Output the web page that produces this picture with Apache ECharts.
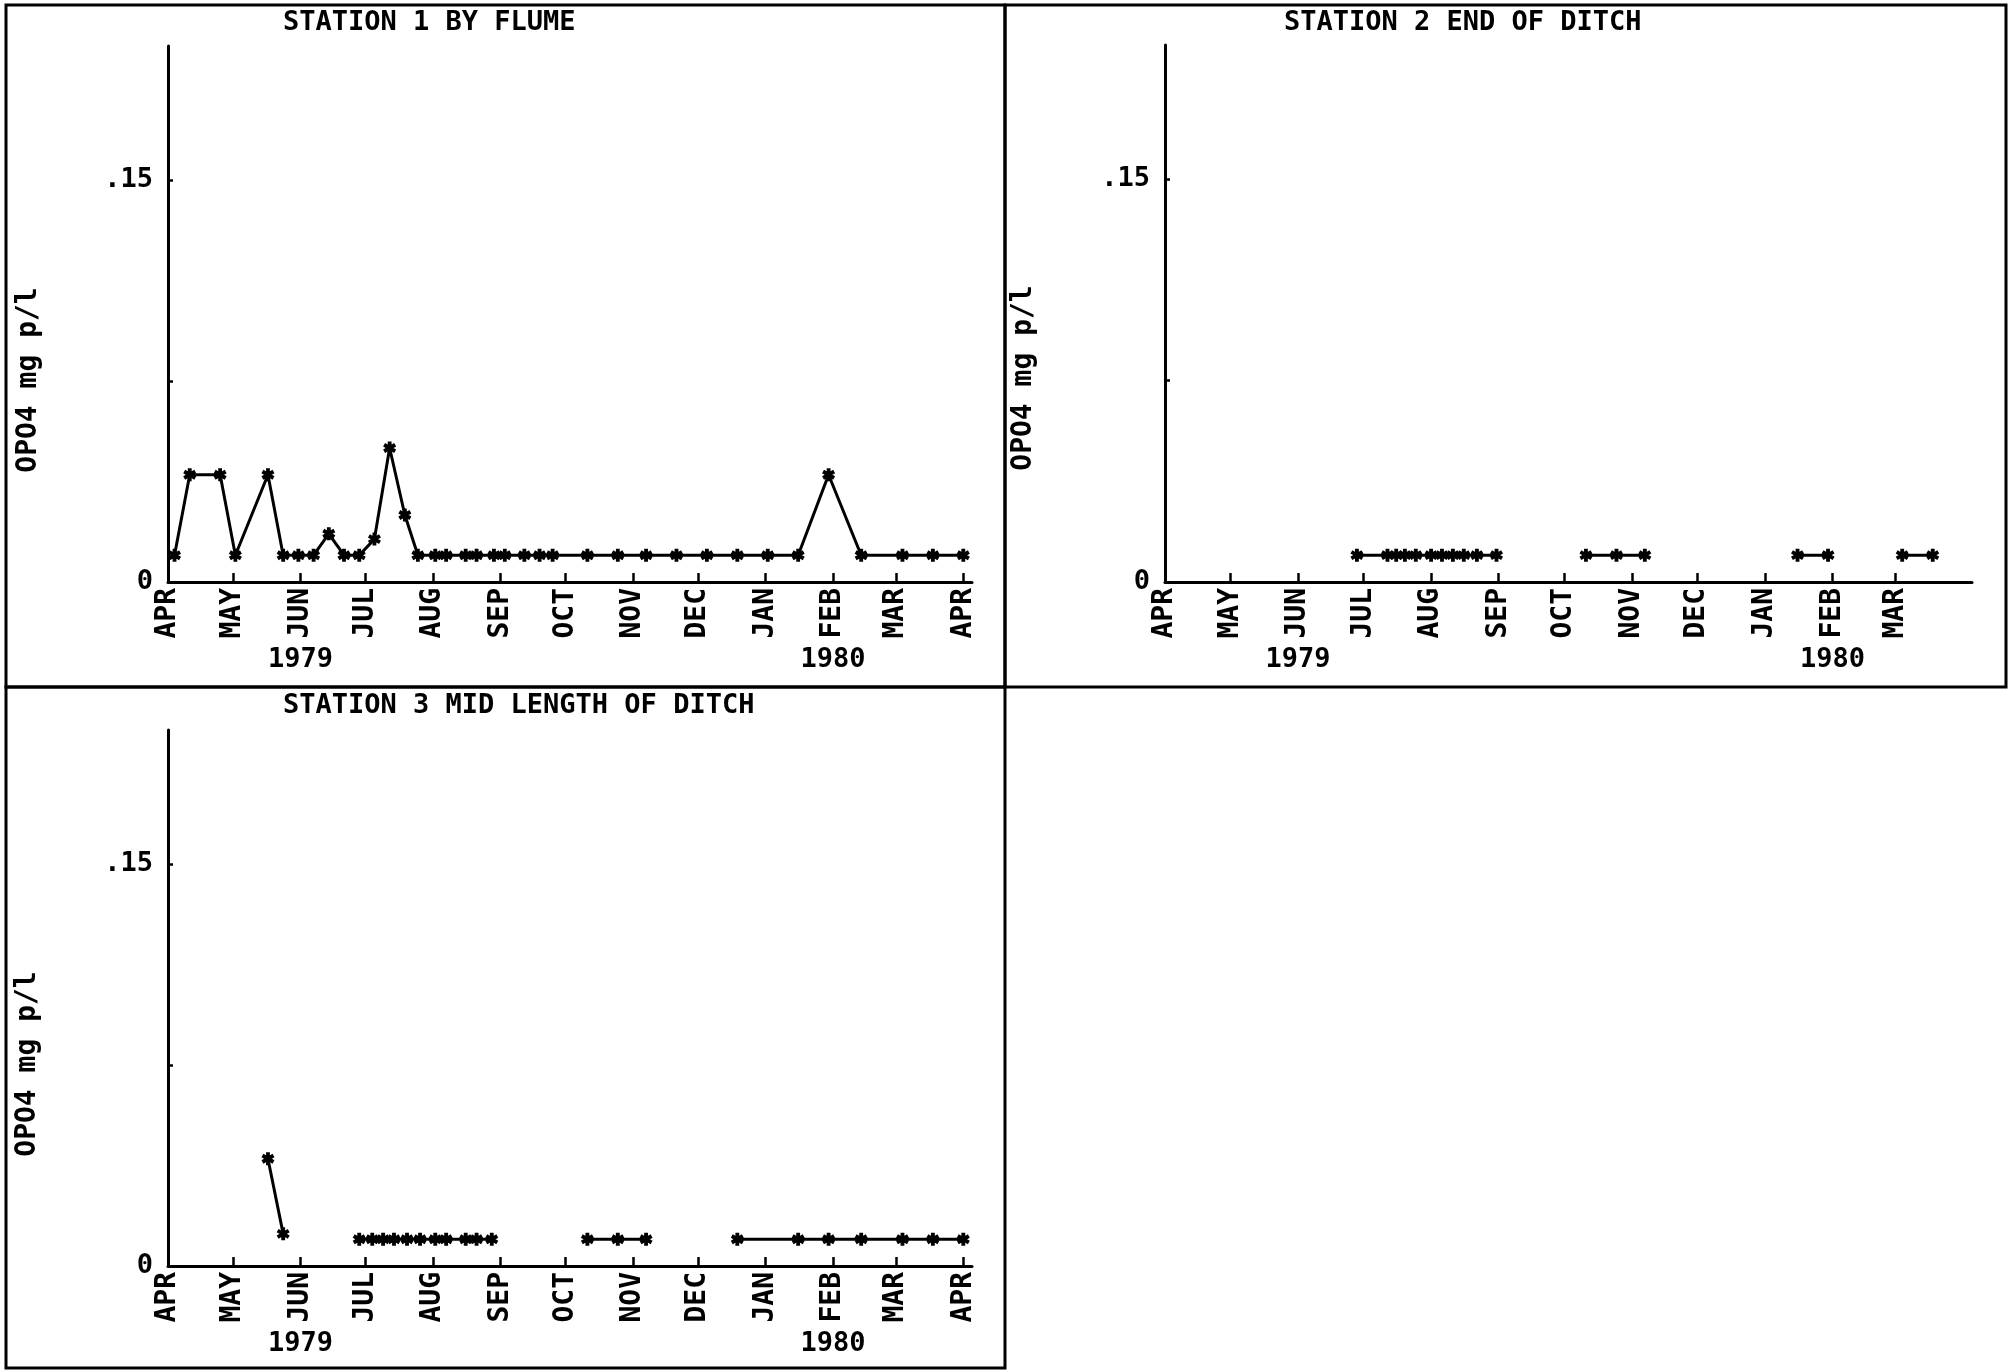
<!DOCTYPE html>
<html>
<head>
<meta charset="utf-8">
<title>OPO4 mg p/l</title>
<script src="https://cdn.jsdelivr.net/npm/echarts@6.0.0/dist/echarts.min.js"></script>
<style>
html, body { margin: 0; padding: 0; background: #fff; }
#container { width: 2014px; height: 1372px; }
</style>
</head>
<body>
<div id="container"></div>
<script>
var monthNames = ['JAN', 'FEB', 'MAR', 'APR', 'MAY', 'JUN', 'JUL', 'AUG', 'SEP', 'OCT', 'NOV', 'DEC'];
var monthTicks = ['1979-04-01', '1979-05-01', '1979-06-01', '1979-07-01', '1979-08-01', '1979-09-01',
    '1979-10-01', '1979-11-01', '1979-12-01', '1980-01-01', '1980-02-01', '1980-03-01', '1980-04-01'];
var station2MonthTicks = ['1979-04-01', '1979-05-01', '1979-06-01', '1979-07-01', '1979-08-01', '1979-09-01',
    '1979-10-01', '1979-11-01', '1979-12-01', '1980-01-01', '1980-02-01', '1980-03-01'];
var yearTicks = ['1979-06-01', '1980-02-01'];
var yTicks = [0, 0.075, 0.15];
var yLabels = [0, 0.15];

var station1Dates = ['1979-04-04', '1979-04-11', '1979-04-25', '1979-05-02', '1979-05-17', '1979-05-24',
    '1979-05-31', '1979-06-07', '1979-06-14', '1979-06-21', '1979-06-28', '1979-07-05', '1979-07-12',
    '1979-07-19', '1979-07-25', '1979-08-02', '1979-08-07', '1979-08-16', '1979-08-21', '1979-08-29',
    '1979-09-03', '1979-09-12', '1979-09-19', '1979-09-25', '1979-10-11', '1979-10-25', '1979-11-07',
    '1979-11-21', '1979-12-05', '1979-12-19', '1980-01-02', '1980-01-16', '1980-01-30', '1980-02-14',
    '1980-03-04', '1980-03-18', '1980-04-01'];
var station1Values = [0.01, 0.04, 0.04, 0.01, 0.04, 0.01,
    0.01, 0.01, 0.018, 0.01, 0.01, 0.016, 0.05,
    0.025, 0.01, 0.01, 0.01, 0.01, 0.01, 0.01,
    0.01, 0.01, 0.01, 0.01, 0.01, 0.01, 0.01,
    0.01, 0.01, 0.01, 0.01, 0.01, 0.04, 0.01,
    0.01, 0.01, 0.01];

var station2Dates = ['1979-06-28', '1979-07-12', '1979-07-16', '1979-07-20', '1979-07-25', '1979-08-01',
    '1979-08-06', '1979-08-11', '1979-08-16', '1979-08-22', '1979-08-31', '1979-09-12', '1979-10-11',
    '1979-10-25', '1979-11-07', '1979-11-21', '1980-01-16', '1980-01-30', '1980-02-14', '1980-03-04',
    '1980-03-18'];
var station2Values = [0.01, 0.01, 0.01, 0.01, 0.01, 0.01,
    0.01, 0.01, 0.01, 0.01, 0.01, null, 0.01,
    0.01, 0.01, null, 0.01, 0.01, null, 0.01,
    0.01];

var station3Dates = ['1979-05-17', '1979-05-24', '1979-06-07', '1979-06-28', '1979-07-04', '1979-07-09',
    '1979-07-14', '1979-07-20', '1979-07-26', '1979-08-02', '1979-08-07', '1979-08-16', '1979-08-21',
    '1979-08-28', '1979-09-12', '1979-10-11', '1979-10-25', '1979-11-07', '1979-11-21', '1979-12-19',
    '1980-01-16', '1980-01-30', '1980-02-14', '1980-03-04', '1980-03-18', '1980-04-01'];
var station3Values = [0.04, 0.012, null, 0.01, 0.01, 0.01,
    0.01, 0.01, 0.01, 0.01, 0.01, 0.01, 0.01,
    0.01, null, 0.01, 0.01, 0.01, null, 0.01,
    0.01, 0.01, 0.01, 0.01, 0.01, 0.01];

var axisStart = '1979-04-01';
var axisEnd = '1980-04-05';

var FONT = 'DejaVu Sans Mono';
var STAR = 'path://M3.5 0L6.5 0L6.5 10L3.5 10Z M8.58 1.2L10.08 3.8L1.42 8.8L-0.08 6.2Z M-0.08 3.8L1.42 1.2L10.08 6.2L8.58 8.8Z';

$init();

function ts(s) {
    var p = s.split('-');
    return new Date(+p[0], p[1] - 1, +p[2]).getTime();
}

function toTs(list) {
    var out = [];
    for (var i = 0; i < list.length; i++) {
        out.push(ts(list[i]));
    }
    return out;
}

function toSeries(dates, values) {
    var out = [];
    for (var i = 0; i < dates.length; i++) {
        out.push([ts(dates[i]), values[i] === null ? '-' : values[i]]);
    }
    return out;
}

function labelStyle(extra) {
    var s = { color: '#000', fontFamily: FONT, fontSize: 27, fontWeight: 'bold' };
    for (var k in extra) {
        s[k] = extra[k];
    }
    return s;
}

function $init() {
    var myChart = echarts.init(document.getElementById('container'));

    var panels = [
        { grid: { left: 168, top: 46, width: 804, height: 536 }, ticks: monthTicks,
          title: 'STATION 1 BY FLUME', titleLeft: 283, titleTop: 9,
          nameX: 29, nameY: 380, data: toSeries(station1Dates, station1Values) },
        { grid: { left: 1165, top: 45, width: 807, height: 537 }, ticks: station2MonthTicks,
          title: 'STATION 2 END OF DITCH', titleLeft: 1284, titleTop: 9,
          nameX: 1024, nameY: 378, data: toSeries(station2Dates, station2Values) },
        { grid: { left: 168, top: 730, width: 804, height: 536 }, ticks: monthTicks,
          title: 'STATION 3 MID LENGTH OF DITCH', titleLeft: 283, titleTop: 692,
          nameX: 28, nameY: 1064, data: toSeries(station3Dates, station3Values) }
    ];

    var grids = [], xAxes = [], yAxes = [], series = [], titles = [];
    var graphics = [
        { type: 'rect', shape: { x: 6, y: 5, width: 999, height: 682 }, style: { fill: null, stroke: '#000', lineWidth: 3 } },
        { type: 'rect', shape: { x: 1005, y: 5, width: 1001, height: 682 }, style: { fill: null, stroke: '#000', lineWidth: 3 } },
        { type: 'rect', shape: { x: 6, y: 687, width: 999, height: 681 }, style: { fill: null, stroke: '#000', lineWidth: 3 } }
    ];

    for (var i = 0; i < panels.length; i++) {
        var p = panels[i];
        var g = p.grid;
        g.outerBoundsMode = 'none';
        grids.push(g);

        titles.push({
            text: p.title, left: p.titleLeft, top: p.titleTop, padding: 0,
            textStyle: { color: '#000', fontFamily: FONT, fontSize: 27, fontWeight: 'bold' }
        });

        // dates go on a plain value axis (ms), month starts as custom ticks
        xAxes.push({
            type: 'value', gridIndex: i, min: ts(axisStart), max: ts(axisEnd),
            axisLine: { show: true, onZero: false, lineStyle: { color: '#000', width: 3 } },
            axisTick: { show: true, inside: true, length: 9, customValues: toTs(p.ticks),
                lineStyle: { color: '#000', width: 2.5 } },
            axisLabel: labelStyle({
                show: true, rotate: 90, margin: 6, fontSize: 28, customValues: toTs(p.ticks),
                formatter: function (v) { return monthNames[new Date(v).getMonth()]; }
            }),
            splitLine: { show: false }
        });
        xAxes.push({
            type: 'value', gridIndex: i, position: 'bottom', min: ts(axisStart), max: ts(axisEnd),
            axisLine: { show: false }, axisTick: { show: false },
            axisLabel: labelStyle({
                show: true, margin: 64, customValues: toTs(yearTicks),
                formatter: function (v) { return String(new Date(v).getFullYear()); }
            }),
            splitLine: { show: false }
        });

        yAxes.push({
            type: 'value', gridIndex: i, min: 0, max: 0.2,
            axisLine: { show: true, lineStyle: { color: '#000', width: 3 } },
            axisTick: { show: true, inside: true, length: 5, customValues: yTicks,
                lineStyle: { color: '#000', width: 2.5 } },
            axisLabel: labelStyle({
                show: true, margin: 15, customValues: yLabels,
                formatter: function (v) { return v === 0 ? '0' : String(v).replace(/^0/, ''); }
            }),
            splitLine: { show: false }
        });

        series.push({
            type: 'line', xAxisIndex: 2 * i, yAxisIndex: i,
            data: p.data,
            symbol: STAR, symbolSize: 13, showAllSymbol: true,
            connectNulls: false,
            lineStyle: { color: '#000', width: 3 },
            itemStyle: { color: '#000' },
            emphasis: { disabled: true }
        });

        graphics.push({
            type: 'text', x: p.nameX, y: p.nameY, rotation: Math.PI / 2,
            style: { text: 'OPO4 mg p/l', fill: '#000', fontFamily: FONT, fontSize: 28,
                fontWeight: 'bold', align: 'center', verticalAlign: 'middle' }
        });
    }

    myChart.setOption({
        animation: false,
        backgroundColor: '#fff',
        title: titles,
        grid: grids,
        xAxis: xAxes,
        yAxis: yAxes,
        series: series,
        graphic: graphics
    });
}
</script>
</body>
</html>
